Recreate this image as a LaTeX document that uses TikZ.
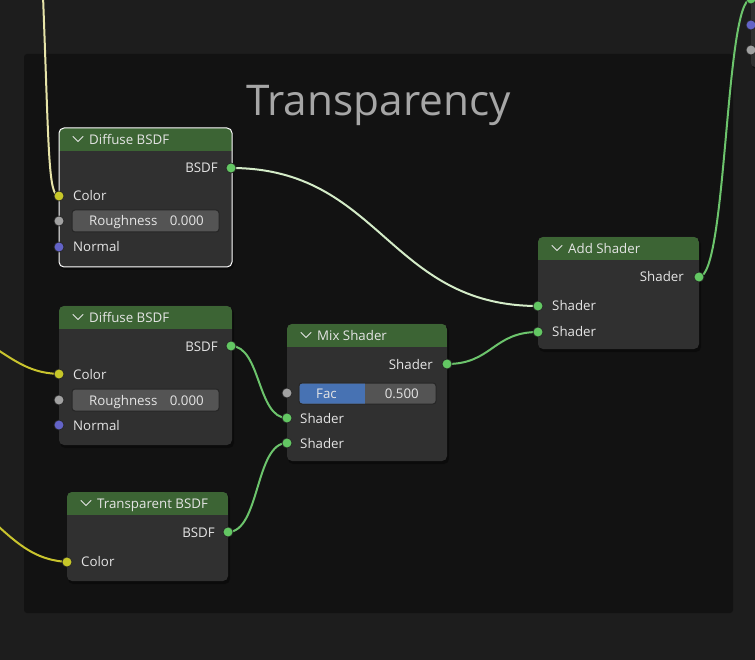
\documentclass[tikz,border=0pt]{standalone}
\usepackage{fontspec}
\setmainfont{Open Sans}
\definecolor{outerbg}{HTML}{1D1D1D}
\definecolor{framebg}{HTML}{121212}
\definecolor{nodebg}{HTML}{303030}
\definecolor{hdr}{HTML}{3C6434}
\definecolor{txt}{HTML}{E5E5E5}
\definecolor{titlec}{HTML}{A6A6A6}
\definecolor{fieldbg}{HTML}{545454}
\definecolor{fieldline}{HTML}{262626}
\definecolor{facblue}{HTML}{4772B3}
\definecolor{sgreen}{HTML}{63C763}
\definecolor{syellow}{HTML}{C7C729}
\definecolor{sgray}{HTML}{A1A1A1}
\definecolor{sblue}{HTML}{6363C7}
\definecolor{lgreen}{HTML}{6CC46C}
\definecolor{lyellow}{HTML}{C9C42E}
\definecolor{hgreen}{HTML}{D4ECC8}
\definecolor{hyellow}{HTML}{E6E3A8}
\tikzset{
  lbl/.style={font=\fontsize{13.3}{15}\selectfont, text=txt, inner sep=0pt},
  sock/.style={circle, draw=black!85, line width=0.7pt, minimum size=10pt, inner sep=0pt},
  link/.style={line width=2pt, line cap=round},
  chev/.style={draw=txt, line width=1pt, line cap=round, line join=round},
  field/.style={fill=fieldbg, draw=fieldline, line width=1pt, rounded corners=3pt},
}
\newcommand\shadernode[6]{%
  \fill[black, opacity=0.35, rounded corners=5pt] (#2+1,#3+2) rectangle (#4+2,#5+3);
  \fill[nodebg, rounded corners=5pt] (#2,#3) rectangle (#4,#5);
  \begin{scope}
    \clip[rounded corners=5pt] (#2,#3) rectangle (#4,#5);
    \fill[hdr] (#2,#3) rectangle (#4,#3+23);
  \end{scope}
  \coordinate (#1) at (#2,#3);
  \draw[chev] (#2+14,#3+8.5) -- (#2+19,#3+13.5) -- (#2+24,#3+8.5);
  \node[lbl, anchor=base west] (#1-title) at (#2+30,#3+16.3) {#6};
}
\begin{document}
\begin{tikzpicture}[x=1pt,y=-1pt]
\useasboundingbox (0,0) rectangle (755,660);
\fill[outerbg] (0,0) rectangle (755,660);
% frame
\fill[framebg, rounded corners=3pt] (24,54) rectangle (733,613);
\node[font=\fontsize{42.3}{48}\selectfont, text=titlec, anchor=base west, inner sep=0pt] (title) at (246,115.5) {Transparency};

% node bodies
\shadernode{d1}{59}{128}{232}{267}{Diffuse BSDF}
\draw[white, line width=1pt, rounded corners=5pt] (59,128) rectangle (232,267);
\shadernode{d2}{59}{306}{232}{445}{Diffuse BSDF}
\shadernode{mix}{287}{324}{447}{461}{Mix Shader}
\shadernode{tr}{67}{492}{228}{581}{Transparent BSDF}
\shadernode{add}{538}{237}{699}{349}{Add Shader}
% partial node top right
\fill[black, opacity=0.35, rounded corners=4pt] (752,-10) rectangle (770,69);
\fill[nodebg, rounded corners=4pt] (751,-10) rectangle (770,67);

% fields
\draw[field] (72,210) rectangle (219,232);
\node[lbl, anchor=base west] (r1l) at (89,226) {Roughness};
\node[lbl, anchor=base east] (r1v) at (204,226) {0.000};
\draw[field] (72,389) rectangle (219,411);
\node[lbl, anchor=base west] (r2l) at (89,405) {Roughness};
\node[lbl, anchor=base east] (r2v) at (204,405) {0.000};
\draw[field] (299,383) rectangle (436,404);
\begin{scope}
  \clip[rounded corners=3pt] (299.5,383.5) rectangle (435.5,403.5);
  \fill[facblue] (299,383) rectangle (365,404);
\end{scope}
\node[lbl, anchor=base west] (facl) at (316,398.5) {Fac};
\node[lbl, anchor=base east] (facv) at (419,398.5) {0.500};

% socket coordinates
\coordinate (d1out) at (231,168);
\coordinate (d1col) at (59,196);
\coordinate (d1rough) at (59,221);
\coordinate (d1norm) at (59,247);
\coordinate (d2out) at (231,346);
\coordinate (d2col) at (59,374);
\coordinate (d2rough) at (59,400);
\coordinate (d2norm) at (59,425);
\coordinate (mixout) at (447,364);
\coordinate (mixfac) at (287,393);
\coordinate (mixin1) at (287,418);
\coordinate (mixin2) at (287,443);
\coordinate (trout) at (228,532);
\coordinate (trcol) at (67,562);
\coordinate (addout) at (699,277);
\coordinate (addin1) at (538,306);
\coordinate (addin2) at (538,332);
\coordinate (tra) at (751,-1);
\coordinate (trb) at (751,25);
\coordinate (trc) at (751,50);
\coordinate (srcA) at (43,-4);
\coordinate (srcB) at (-2,350);
\coordinate (srcC) at (-2,526);

% links
\draw[link, hyellow] (srcA) .. controls (49,150) and (48,196) .. (d1col);
\draw[link, lyellow] (srcB) .. controls (22,366) and (35,373) .. (d2col);
\draw[link, lyellow] (srcC) .. controls (24,550) and (40,560) .. (trcol);
\draw[link, hgreen] (d1out) .. controls +(150,0) and +(-150,0) .. (addin1);
\draw[link, lgreen] (d2out) .. controls +(30,0) and +(-30,0) .. (mixin1);
\draw[link, lgreen] (trout) .. controls +(32,0) and +(-32,0) .. (mixin2);
\draw[link, lgreen] (mixout) .. controls +(45,0) and +(-45,0) .. (addin2);
\draw[link, lgreen] (addout) .. controls +(28,0) and +(-26,0) .. (tra);

% sockets
\foreach \s in {d1out,d2out,mixout,mixin1,mixin2,trout,addout,addin1,addin2,tra}
  \node[sock, fill=sgreen] at (\s) {};
\foreach \s in {d1col,d2col,trcol}
  \node[sock, fill=syellow] at (\s) {};
\foreach \s in {d1rough,d2rough,mixfac,trc}
  \node[sock, fill=sgray] at (\s) {};
\foreach \s in {d1norm,d2norm,trb}
  \node[sock, fill=sblue] at (\s) {};

% labels
\node[lbl, anchor=base east] (l1) at (218,173) {BSDF};
\node[lbl, anchor=base west] (l2) at (73,201) {Color};
\node[lbl, anchor=base west] (l3) at (73,252) {Normal};
\node[lbl, anchor=base east] (l4) at (218,351) {BSDF};
\node[lbl, anchor=base west] (l5) at (73,379) {Color};
\node[lbl, anchor=base west] (l6) at (73,430) {Normal};
\node[lbl, anchor=base east] (l7) at (433,369) {Shader};
\node[lbl, anchor=base west] (l8) at (300,423) {Shader};
\node[lbl, anchor=base west] (l9) at (300,448.5) {Shader};
\node[lbl, anchor=base east] (l10) at (215,537) {BSDF};
\node[lbl, anchor=base west] (l11) at (81,566.5) {Color};
\node[lbl, anchor=base east] (l12) at (684,282) {Shader};
\node[lbl, anchor=base west] (l13) at (552,311) {Shader};
\node[lbl, anchor=base west] (l14) at (552,336.5) {Shader};
\end{tikzpicture}
\end{document}
